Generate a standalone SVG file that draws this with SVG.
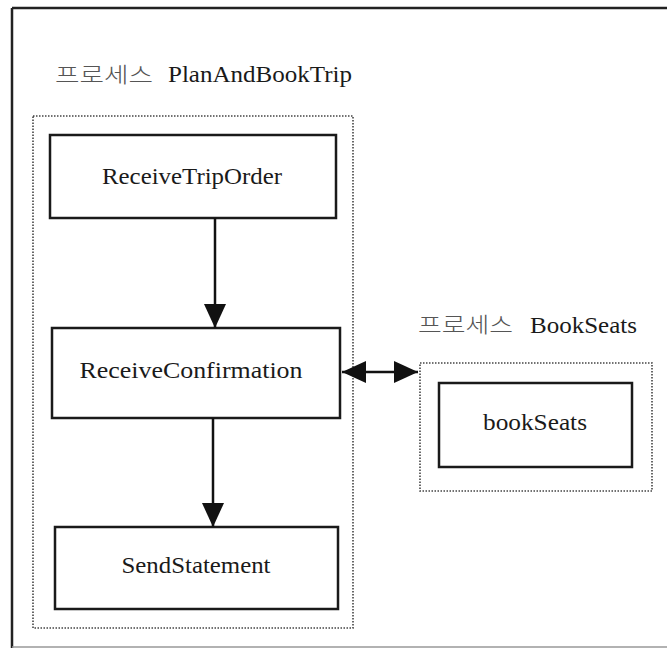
<svg xmlns="http://www.w3.org/2000/svg" width="667" height="648" viewBox="0 0 667 648">
  <defs>
    <style>
      .frame { stroke: #222; stroke-width: 2.5; fill: none; }
      .box { fill: #fff; stroke: #1a1a1a; stroke-width: 2.5; }
      .group { fill: none; stroke: #444; stroke-width: 1.6; stroke-dasharray: 1.5 1.5; }
      .link { stroke: #111; stroke-width: 2.5; fill: none; }
      .lbl { font-family: 'Liberation Serif', 'Times New Roman', serif; font-size: 24px; fill: #1a1a1a; }
      .ko { font-family: 'Noto Sans CJK KR', sans-serif; font-size: 21px; font-weight: 300; fill: #555; }
    </style>
    <marker id="headL" viewBox="0 0 24 22" refX="24" refY="11" markerWidth="24" markerHeight="22" markerUnits="userSpaceOnUse" orient="auto-start-reverse">
      <path d="M0,0 L24,11 L0,22 z" fill="#111"/>
    </marker>
  </defs>

  <!-- outer frame -->
  <g id="frame">
    <line class="frame" x1="12" y1="8" x2="667" y2="8"/>
    <line class="frame" x1="12" y1="8" x2="12" y2="648"/>
    <line x1="12" y1="647" x2="667" y2="647" stroke="#999" stroke-width="1.5"/>
  </g>

  <!-- process PlanAndBookTrip -->
  <g id="process-planandbooktrip">
    <text class="ko" x="55" y="82" textLength="98" lengthAdjust="spacingAndGlyphs">프로세스</text>
    <text class="lbl" x="168" y="82" textLength="184" lengthAdjust="spacingAndGlyphs">PlanAndBookTrip</text>
    <rect class="group" x="33" y="116" width="320" height="512"/>
  </g>

  <!-- process BookSeats -->
  <g id="process-bookseats">
    <text class="ko" x="418" y="332" textLength="95" lengthAdjust="spacingAndGlyphs">프로세스</text>
    <text class="lbl" x="530" y="333" textLength="107" lengthAdjust="spacingAndGlyphs">BookSeats</text>
    <rect class="group" x="420" y="363" width="232" height="128"/>
  </g>

  <g id="node-receivetriporder">
    <rect class="box" x="50" y="135" width="286" height="83"/>
    <text class="lbl" x="192" y="184" text-anchor="middle" textLength="180" lengthAdjust="spacingAndGlyphs">ReceiveTripOrder</text>
  </g>

  <g id="node-receiveconfirmation">
    <rect class="box" x="52" y="328" width="288" height="90"/>
    <text class="lbl" x="191" y="378" text-anchor="middle" textLength="223" lengthAdjust="spacingAndGlyphs">ReceiveConfirmation</text>
  </g>

  <g id="node-sendstatement">
    <rect class="box" x="55" y="527" width="283" height="82"/>
    <text class="lbl" x="196" y="573" text-anchor="middle" textLength="149" lengthAdjust="spacingAndGlyphs">SendStatement</text>
  </g>

  <g id="node-bookseats">
    <rect class="box" x="439" y="383" width="193" height="84"/>
    <text class="lbl" x="535" y="430" text-anchor="middle" textLength="104" lengthAdjust="spacingAndGlyphs">bookSeats</text>
  </g>

  <!-- connectors -->
  <g id="connectors">
    <line class="link" x1="215" y1="218" x2="215" y2="328" marker-end="url(#headL)"/>
    <line class="link" x1="213" y1="418" x2="213" y2="527" marker-end="url(#headL)"/>
    <line class="link" x1="342" y1="372" x2="418" y2="372" marker-start="url(#headL)" marker-end="url(#headL)"/>
  </g>
</svg>
